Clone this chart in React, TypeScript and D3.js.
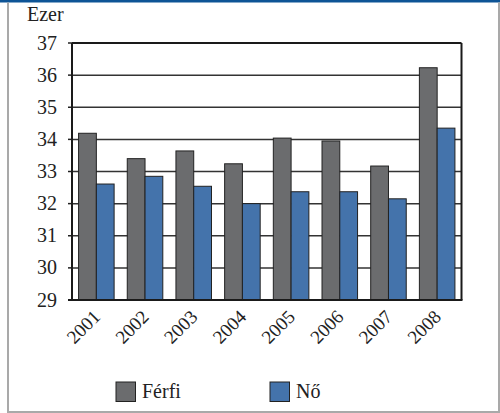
import React from "react";
import * as d3 from "d3";

const years = ["2001", "2002", "2003", "2004", "2005", "2006", "2007", "2008"];
const ferfi = [34.19, 33.4, 33.64, 33.24, 34.04, 33.95, 33.17, 36.23];
const no = [32.61, 32.85, 32.54, 32.0, 32.37, 32.37, 32.15, 34.35];
const yTicks = [29, 30, 31, 32, 33, 34, 35, 36, 37];
const seriesNames = ["Férfi", "Nő"];
const colors = ["#6b6c6e", "#4473ab"];

export default function App() {
  const W = 500, H = 413;
  const left = 72, right = 461.5, top = 43, bottom = 300;
  const x = d3.scaleBand<string>().domain(years).range([left, right]).paddingInner(0.27).paddingOuter(0.135);
  const inner = d3.scaleBand<number>().domain([0, 1]).range([0, x.bandwidth()]);
  const y = d3.scaleLinear().domain([29, 37]).range([bottom, top]);
  const ts = { fontFamily: "Liberation Serif, DejaVu Serif, serif" };
  const series = [ferfi, no];
  return (
    <svg width={W} height={H} style={{ position: "absolute", left: 0, top: 0, display: "block" }}>
      <rect x={0} y={0} width={W} height={H} fill="#fff" />
      <rect x={0} y={0} width={W} height={2.5} fill="#0d5496" />
      <line x1={8} x2={8} y1={2.5} y2={H} stroke="#a9a9a9" strokeWidth={2} />
      <line x1={499} x2={499} y1={2.5} y2={H} stroke="#a9a9a9" strokeWidth={2} />
      <line x1={8} x2={500} y1={412} y2={412} stroke="#a9a9a9" strokeWidth={2} />
      <text x={27} y={21} fontSize={20} fill="#222" style={ts}>Ezer</text>
      {yTicks.map((t) => (
        <g key={t}>
          {t > 29 && t < 37 && (
            <line x1={left} x2={right} y1={y(t)} y2={y(t)} stroke="#333" strokeWidth={1.5} />
          )}
          <line x1={left - 4} x2={left} y1={y(t)} y2={y(t)} stroke="#222" strokeWidth={1.5} />
          <text x={57} y={y(t)} dy="0.33em" textAnchor="end" fontSize={20} fill="#222" style={ts}>{t}</text>
        </g>
      ))}
      {years.map((yr, i) => (
        <g key={yr}>
          {series.map((s, k) => (
            <rect key={k} x={(x(yr) as number) + (inner(k) as number)} y={y(s[i])} width={inner.bandwidth()}
              height={bottom - y(s[i])} fill={colors[k]} stroke="#222" strokeWidth={1} />
          ))}
          <text transform={`translate(${(x(yr) as number) + x.bandwidth() / 2 + 5},${bottom + 18}) rotate(-45)`}
            textAnchor="end" fontSize={19} fill="#222" style={ts}>{yr}</text>
        </g>
      ))}
      <line x1={left} x2={right} y1={top} y2={top} stroke="#1a1a1a" strokeWidth={2} />
      <line x1={right} x2={right} y1={top} y2={bottom} stroke="#1a1a1a" strokeWidth={2} />
      <line x1={left} x2={left} y1={top} y2={bottom} stroke="#1a1a1a" strokeWidth={2} />
      <line x1={left - 4} x2={right + 1} y1={bottom} y2={bottom} stroke="#1a1a1a" strokeWidth={2} />
      {seriesNames.map((n, k) => (
        <g key={n} transform={`translate(${k === 0 ? 116 : 270},382)`}>
          <rect x={0} y={0} width={19.5} height={19.5} fill={colors[k]} stroke="#222" strokeWidth={1} />
          <text x={26} y={15.5} fontSize={20} fill="#222" style={ts}>{n}</text>
        </g>
      ))}
    </svg>
  );
}
